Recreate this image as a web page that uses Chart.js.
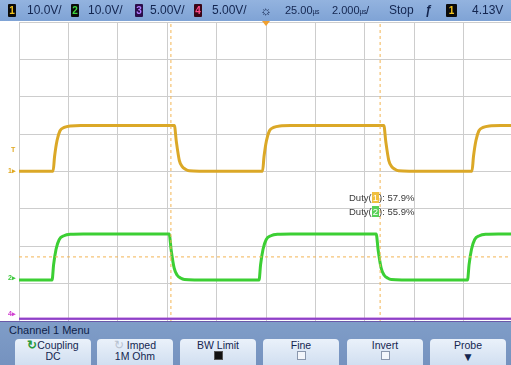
<!DOCTYPE html>
<html>
<head>
<meta charset="utf-8">
<script src="https://cdn.jsdelivr.net/npm/chart.js@4/dist/chart.umd.min.js"></script>
<style>
html,body{margin:0;padding:0;width:511px;height:365px;overflow:hidden;background:#fff;font-family:"Liberation Sans",Arial,sans-serif;}
#scope{position:absolute;left:0;top:0;}
.ov{position:absolute;white-space:nowrap;}
#hdr{position:absolute;left:0;top:0;width:511px;height:21px;background:linear-gradient(#93b3df,#7fa3d5);color:#13254f;font-size:12px;line-height:21px;}
#hdr .ov{top:0;}
.badge{position:absolute;top:4px;width:8px;height:13px;background:#0a0a0a;border-radius:1px;font-size:10px;font-weight:bold;line-height:13px;text-align:center;}
.us{font-size:7px;letter-spacing:-0.5px;}
#trig{position:absolute;left:262px;top:21px;width:0;height:0;border-left:4px solid transparent;border-right:4px solid transparent;border-top:5px solid #f0a030;}
.gnd{position:absolute;font-size:7px;line-height:8px;font-weight:bold;}
.duty{position:absolute;left:349px;font-size:9.5px;color:#3a3a3a;line-height:12px;}
.duty b{font-weight:normal;padding:0 1px;color:#fff;}
#menu{position:absolute;left:0;top:321px;width:511px;height:44px;background:linear-gradient(#7f9dc8,#7592bf);border-top:1px solid #6a5aa8;}
#menuTitle{position:absolute;left:9px;top:1px;font-size:11px;line-height:14px;color:#0f1e48;}
.btn{position:absolute;top:17px;width:76px;height:30px;border-radius:4px;background:linear-gradient(#eaf1fa,#cddcef);color:#142650;font-size:10.5px;text-align:center;line-height:11px;}
.btn .l1{position:absolute;left:0;right:0;top:1px;}
.btn .l2{position:absolute;left:0;right:0;top:12px;}
.chk{display:inline-block;width:7px;height:7px;border:1px solid #8a97ad;background:#f3f6fb;}
.chk.on{background:#111;border-color:#555;}
</style>
</head>
<body>
<canvas id="scope" width="514" height="365"></canvas>

<div id="hdr">
  <div class="badge" style="left:8px;color:#f2c21c;">1</div>
  <div class="ov" style="left:27px;">10.0V/</div>
  <div class="badge" style="left:71px;color:#3fd83f;">2</div>
  <div class="ov" style="left:88px;">10.0V/</div>
  <div class="badge" style="left:135px;color:#b27cff;background:#2a0d4a;">3</div>
  <div class="ov" style="left:150px;">5.00V/</div>
  <div class="badge" style="left:194px;color:#ff4a86;background:#3a0616;">4</div>
  <div class="ov" style="left:212px;">5.00V/</div>
  <div class="ov" style="left:260px;font-size:13px;">☼</div>
  <div class="ov" style="left:285px;font-size:11px;">25.00<span class="us">µs</span></div>
  <div class="ov" style="left:332px;font-size:11px;">2.000<span class="us">µs</span>/</div>
  <div class="ov" style="left:389px;">Stop</div>
  <div class="ov" style="left:425px;font-style:italic;font-weight:bold;">ƒ</div>
  <div class="badge" style="left:446px;width:11px;color:#f2c21c;">1</div>
  <div class="ov" style="left:472px;">4.13V</div>
</div>
<div id="trig"></div>

<div class="gnd" style="left:11px;top:146px;color:#e0a820;">T</div>
<div class="gnd" style="left:8px;top:167px;color:#e0a820;">1▸</div>
<div class="gnd" style="left:8px;top:274px;color:#3cc83c;">2▸</div>
<div class="gnd" style="left:8px;top:310px;color:#d040d0;">4▸</div>

<div class="duty" style="top:192px;">Duty(<b style="background:#f0c040;">1</b>): 57.9%</div>
<div class="duty" style="top:206px;">Duty(<b style="background:#58d058;">2</b>): 55.9%</div>

<div id="menu">
  <div id="menuTitle">Channel 1 Menu</div>
  <div class="btn" style="left:15px;"><div class="l1"><span style="color:#2a9a3a;font-weight:bold;font-size:12px;">↻</span>Coupling</div><div class="l2">DC</div></div>
  <div class="btn" style="left:97px;"><div class="l1"><span style="color:#b8c2d0;font-size:12px;">↻</span> Imped</div><div class="l2">1M Ohm</div></div>
  <div class="btn" style="left:180px;"><div class="l1">BW Limit</div><div class="l2"><span class="chk on"></span></div></div>
  <div class="btn" style="left:263px;"><div class="l1">Fine</div><div class="l2"><span class="chk"></span></div></div>
  <div class="btn" style="left:347px;"><div class="l1">Invert</div><div class="l2"><span class="chk"></span></div></div>
  <div class="btn" style="left:430px;"><div class="l1">Probe</div><div class="l2" style="font-size:12px;line-height:12px;">▼</div></div>
</div>

<script>
// Horizontal: 2 µs/div, 10 divisions centred on the 25 µs delay
const timeMin = 15, timeMax = 35, timePerDiv = 2;

// Channel 1 (10 V/div) — time in µs, level in V
const ch1Time = [15.0, 16.38, 16.44, 16.54, 16.66, 16.83, 17.08, 17.5, 19.0, 21.29,
                 21.37, 21.49, 21.61, 21.74, 21.89, 22.3, 24.86,
                 24.92, 25.02, 25.14, 25.31, 25.56, 26.0, 28.0, 29.77,
                 29.85, 29.97, 30.09, 30.22, 30.37, 30.8, 33.34,
                 33.40, 33.50, 33.62, 33.79, 34.04, 34.5, 35.0];
const ch1Volt = [0.1, 0.1, 4.0, 8.3, 10.9, 11.8, 12.2, 12.3, 12.3, 12.3,
                 8.0, 3.0, 1.3, 0.6, 0.2, 0.1, 0.1,
                 4.0, 8.3, 10.9, 11.8, 12.2, 12.3, 12.3, 12.3,
                 8.0, 3.0, 1.3, 0.6, 0.2, 0.1, 0.1,
                 4.0, 8.3, 10.9, 11.8, 12.2, 12.3, 12.3];

// Channel 2 (10 V/div)
const ch2Time = [15.0, 16.34, 16.40, 16.50, 16.63, 16.82, 17.10, 17.6, 19.0, 21.08,
                 21.16, 21.28, 21.40, 21.54, 21.70, 22.1, 24.72,
                 24.78, 24.88, 25.01, 25.20, 25.48, 26.0, 28.0, 29.46,
                 29.54, 29.66, 29.78, 29.92, 30.08, 30.5, 33.16,
                 33.22, 33.32, 33.45, 33.64, 33.92, 34.4, 35.0];
const ch2Volt = [0.0, 0.0, 4.0, 8.2, 10.8, 11.8, 12.2, 12.3, 12.3, 12.3,
                 8.0, 3.2, 1.3, 0.5, 0.1, 0.0, 0.0,
                 4.0, 8.2, 10.8, 11.8, 12.2, 12.3, 12.3, 12.3,
                 8.0, 3.2, 1.3, 0.5, 0.1, 0.0, 0.0,
                 4.0, 8.2, 10.8, 11.8, 12.2, 12.3, 12.3];

// Channels 3 and 4 are idle at ground (5 V/div)
const ch3Volt = [0, 0];
const ch4Volt = [0, 0];

// Measurement cursors
const cursorTimes = [21.15, 29.62];
const ch2Threshold = 6.15;

const pts = (ts, vs) => ts.map((t, i) => ({x: t, y: vs[i]}));
const span = vs => [{x: timeMin, y: vs[0]}, {x: timeMax, y: vs[1]}];
const cursorColor = '#f3b554';

const datasets = [
  {data: span(ch3Volt), yAxisID: 'yCh34', borderColor: '#8a44c8', borderWidth: 2},
  {data: span(ch4Volt), yAxisID: 'yCh34', borderColor: '#d646d6', borderWidth: 2},
  ...cursorTimes.map(t => ({data: [{x: t, y: -40}, {x: t, y: 40}], yAxisID: 'yCh1',
      borderColor: cursorColor, borderWidth: 1, borderDash: [3, 3]})),
  {data: span([ch2Threshold, ch2Threshold]), yAxisID: 'yCh2', borderColor: cursorColor,
      borderWidth: 1, borderDash: [3, 3]},
  {data: pts(ch2Time, ch2Volt), yAxisID: 'yCh2', borderColor: '#3ccf34', borderWidth: 3,
      cubicInterpolationMode: 'monotone'},
  {data: pts(ch1Time, ch1Volt), yAxisID: 'yCh1', borderColor: '#dba827', borderWidth: 3,
      cubicInterpolationMode: 'monotone'}
];

const gridLook = {color: '#cdcdcd', lineWidth: 1, drawTicks: false};

new Chart(document.getElementById('scope'), {
  type: 'line',
  data: {datasets},
  options: {
    responsive: false,
    animation: false,
    events: [],
    layout: {padding: {left: 19, top: 22, right: 1, bottom: 44}},
    elements: {point: {radius: 0}, line: {fill: false}},
    plugins: {legend: {display: false}, tooltip: {enabled: false}},
    scales: {
      x: {type: 'linear', min: timeMin, max: timeMax,
          ticks: {display: false, stepSize: timePerDiv}, grid: gridLook, border: {display: false}},
      div: {type: 'linear', position: 'left', min: -4, max: 4,
          ticks: {display: false, stepSize: 1}, grid: gridLook, border: {display: false}},
      yCh1: {type: 'linear', display: false, min: -40, max: 40},
      yCh2: {type: 'linear', display: false, min: -11, max: 69},
      yCh34: {type: 'linear', display: false, min: -0.3, max: 39.7}
    }
  }
});
</script>
</body>
</html>
